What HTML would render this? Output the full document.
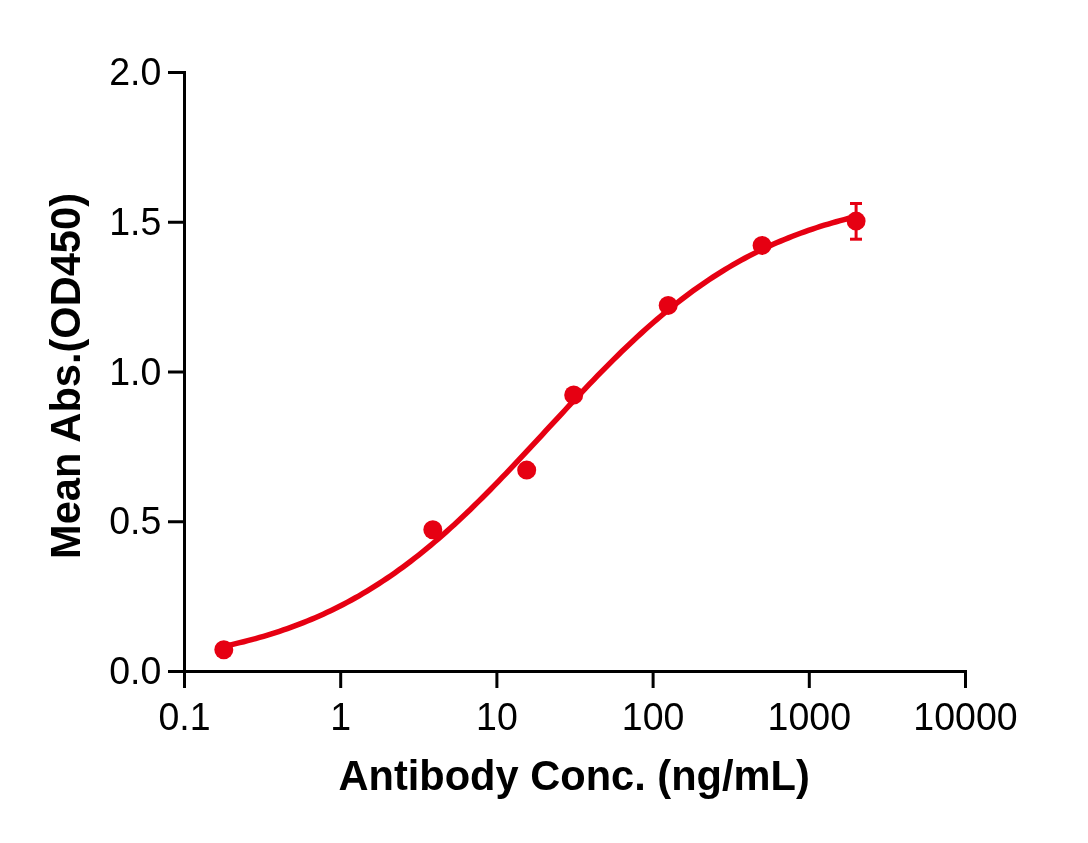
<!DOCTYPE html>
<html><head><meta charset="utf-8"><title>Chart</title>
<style>
html,body{margin:0;padding:0;background:#fff;}
body{width:1088px;height:843px;overflow:hidden;font-family:"Liberation Sans",sans-serif;}
svg{display:block;will-change:transform;}
text{font-family:"Liberation Sans",sans-serif;fill:#000;}
.tick{font-size:37.5px;}
.title{font-size:41.6px;font-weight:bold;}
</style></head><body>
<svg width="1088" height="843" viewBox="0 0 1088 843">
<g stroke="#000" stroke-width="3" fill="none" stroke-linecap="butt">
<line x1="184.5" y1="71" x2="184.5" y2="673"/>
<line x1="183" y1="671.5" x2="967" y2="671.5"/>
<line x1="184.5" y1="671.5" x2="184.5" y2="688"/>
<line x1="340.7" y1="671.5" x2="340.7" y2="688"/>
<line x1="496.9" y1="671.5" x2="496.9" y2="688"/>
<line x1="653.1" y1="671.5" x2="653.1" y2="688"/>
<line x1="809.3" y1="671.5" x2="809.3" y2="688"/>
<line x1="965.5" y1="671.5" x2="965.5" y2="688"/>
<line x1="168" y1="72.5" x2="184.5" y2="72.5"/>
<line x1="168" y1="222.25" x2="184.5" y2="222.25"/>
<line x1="168" y1="372.0" x2="184.5" y2="372.0"/>
<line x1="168" y1="521.75" x2="184.5" y2="521.75"/>
<line x1="168" y1="671.5" x2="184.5" y2="671.5"/>
</g>
<g class="tick">
<text transform="translate(184.5,729.8) scale(1,1.045)" text-anchor="middle">0.1</text>
<text transform="translate(340.7,729.8) scale(1,1.045)" text-anchor="middle">1</text>
<text transform="translate(496.9,729.8) scale(1,1.045)" text-anchor="middle">10</text>
<text transform="translate(653.1,729.8) scale(1,1.045)" text-anchor="middle">100</text>
<text transform="translate(809.3,729.8) scale(1,1.045)" text-anchor="middle">1000</text>
<text transform="translate(965.5,729.8) scale(1,1.045)" text-anchor="middle">10000</text>
<text transform="translate(161.3,85.00) scale(1,1.045)" text-anchor="end">2.0</text>
<text transform="translate(161.3,234.75) scale(1,1.045)" text-anchor="end">1.5</text>
<text transform="translate(161.3,384.50) scale(1,1.045)" text-anchor="end">1.0</text>
<text transform="translate(161.3,534.25) scale(1,1.045)" text-anchor="end">0.5</text>
<text transform="translate(161.3,684.00) scale(1,1.045)" text-anchor="end">0.0</text>
</g>
<text class="title" transform="translate(574.1,790.1) scale(1,1.035)" text-anchor="middle">Antibody Conc. (ng/mL)</text>
<text class="title" transform="translate(80.2,376) rotate(-90) scale(1,1.035)" text-anchor="middle">Mean Abs.(OD450)</text>
<g stroke="#e60012" fill="none">
<path d="M223.80,646.37 L227.78,645.50 L231.75,644.60 L235.73,643.67 L239.71,642.70 L243.68,641.71 L247.66,640.69 L251.64,639.63 L255.61,638.55 L259.59,637.42 L263.57,636.27 L267.54,635.08 L271.52,633.85 L275.50,632.58 L279.47,631.28 L283.45,629.93 L287.43,628.55 L291.40,627.12 L295.38,625.66 L299.36,624.15 L303.33,622.59 L307.31,621.00 L311.29,619.35 L315.26,617.66 L319.24,615.93 L323.22,614.14 L327.19,612.31 L331.17,610.42 L335.15,608.49 L339.13,606.50 L343.10,604.46 L347.08,602.37 L351.06,600.23 L355.03,598.03 L359.01,595.77 L362.99,593.46 L366.96,591.10 L370.94,588.67 L374.92,586.19 L378.89,583.66 L382.87,581.06 L386.85,578.41 L390.82,575.69 L394.80,572.92 L398.78,570.09 L402.75,567.20 L406.73,564.25 L410.71,561.25 L414.68,558.18 L418.66,555.06 L422.64,551.88 L426.61,548.64 L430.59,545.34 L434.57,541.99 L438.54,538.58 L442.52,535.12 L446.50,531.60 L450.47,528.03 L454.45,524.41 L458.43,520.73 L462.40,517.01 L466.38,513.24 L470.36,509.42 L474.33,505.56 L478.31,501.66 L482.29,497.71 L486.26,493.73 L490.24,489.70 L494.22,485.65 L498.19,481.55 L502.17,477.43 L506.15,473.28 L510.12,469.10 L514.10,464.90 L518.08,460.67 L522.05,456.43 L526.03,452.17 L530.01,447.90 L533.98,443.61 L537.96,439.32 L541.94,435.02 L545.92,430.72 L549.89,426.41 L553.87,422.11 L557.85,417.81 L561.82,413.53 L565.80,409.25 L569.78,404.98 L573.75,400.73 L577.73,396.50 L581.71,392.29 L585.68,388.10 L589.66,383.94 L593.64,379.81 L597.61,375.71 L601.59,371.63 L605.57,367.60 L609.54,363.60 L613.52,359.64 L617.50,355.72 L621.47,351.84 L625.45,348.01 L629.43,344.22 L633.40,340.48 L637.38,336.79 L641.36,333.15 L645.33,329.56 L649.31,326.03 L653.29,322.54 L657.26,319.11 L661.24,315.74 L665.22,312.42 L669.19,309.16 L673.17,305.96 L677.15,302.82 L681.12,299.73 L685.10,296.70 L689.08,293.73 L693.05,290.82 L697.03,287.97 L701.01,285.18 L704.98,282.44 L708.96,279.77 L712.94,277.15 L716.91,274.59 L720.89,272.09 L724.87,269.65 L728.84,267.26 L732.82,264.93 L736.80,262.66 L740.77,260.44 L744.75,258.27 L748.73,256.16 L752.71,254.10 L756.68,252.10 L760.66,250.15 L764.64,248.24 L768.61,246.39 L772.59,244.59 L776.57,242.83 L780.54,241.13 L784.52,239.47 L788.50,237.85 L792.47,236.28 L796.45,234.76 L800.43,233.28 L804.40,231.84 L808.38,230.44 L812.36,229.08 L816.33,227.76 L820.31,226.48 L824.29,225.24 L828.26,224.03 L832.24,222.86 L836.22,221.73 L840.19,220.63 L844.17,219.56 L848.15,218.53 L852.12,217.52 L856.10,216.55" stroke-width="5.5" stroke-linejoin="round" stroke-linecap="round"/>
<g stroke-width="3">
<line x1="856.1" y1="203.5" x2="856.1" y2="239.2"/>
<line x1="850" y1="203.5" x2="862" y2="203.5"/>
<line x1="850" y1="239.2" x2="862" y2="239.2"/>
</g>
</g>
<g fill="#e60012">
<circle cx="223.8" cy="649.8" r="9.5"/>
<circle cx="432.8" cy="529.8" r="9.5"/>
<circle cx="526.7" cy="470.1" r="9.5"/>
<circle cx="573.7" cy="395.0" r="9.5"/>
<circle cx="668.2" cy="305.4" r="9.5"/>
<circle cx="762.1" cy="245.4" r="9.5"/>
<circle cx="856.1" cy="221.1" r="9.5"/>
</g>
</svg>
</body></html>
